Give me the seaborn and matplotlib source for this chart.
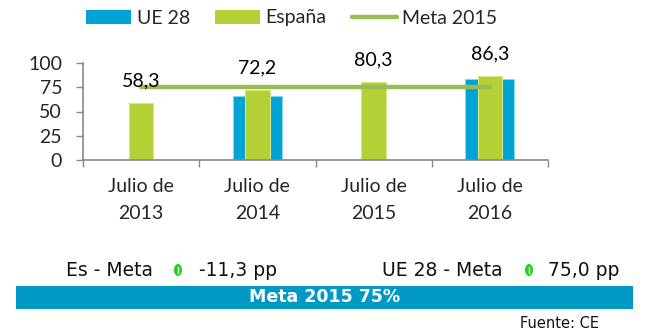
import numpy as np
import pandas as pd
import matplotlib
matplotlib.use("Agg")
import matplotlib.pyplot as plt
import seaborn as sns
from matplotlib.patches import Rectangle, Ellipse
from matplotlib.lines import Line2D

# Datos
periodos = ["Julio de\n2013", "Julio de\n2014", "Julio de\n2015", "Julio de\n2016"]
ue28 = [np.nan, 66.0, np.nan, 84.0]
espana = [58.3, 72.2, 80.3, 86.3]
meta_2015 = [75, 75, 75, 75]
y_ticks = [0, 25, 50, 75, 100]
es_meta = "-11,3 pp"
ue_meta = "75,0 pp"
banda = "Meta 2015 75%"
fuente = "Fuente: CE"

AZUL = "#00A3D3"
VERDE = "#B3D135"
LINEA = "#9BBB59"
BANDA = "#0099C3"

sns.set_style("white")
plt.rcParams["font.family"] = ["Lato", "DejaVu Sans"]

W, H = 648, 332
fig = plt.figure(figsize=(W / 100, H / 100), dpi=100)
ax = fig.add_axes([83 / W, 1 - 160 / H, (548 - 83) / W, (160 - 63) / H])

df = pd.DataFrame({"periodo": periodos, "UE 28": ue28, "España": espana})

sns.barplot(data=df, x="periodo", y="UE 28", order=periodos, color=AZUL,
            saturation=1, width=0.42, edgecolor="#86D4EE", linewidth=0.8,
            ax=ax, label="UE 28")
sns.barplot(data=df, x="periodo", y="España", order=periodos, color=VERDE,
            saturation=1, width=0.21, edgecolor="#D2E68A", linewidth=0.8,
            ax=ax, label="España")
if ax.get_legend() is not None:
    ax.get_legend().remove()

pos = np.arange(len(periodos))
ax.plot(pos, meta_2015, color=LINEA, lw=3.2, solid_capstyle="round",
        label="Meta 2015", zorder=4)

for x, v in zip(pos, espana):
    ax.annotate(f"{v:.1f}".replace(".", ","), (x, v), xytext=(0, 16),
                textcoords="offset points", ha="center", va="center",
                fontsize=14, color="black", zorder=5)

ax.set_ylim(0, 100)
ax.set_xlim(-0.5, len(periodos) - 0.5)
ax.set_yticks(y_ticks)
ax.set_yticklabels([str(t) for t in y_ticks], fontsize=14)
ax.set_xticks(np.arange(len(periodos) + 1) - 0.5)
ax.set_xticklabels([])
ax.set_xticks(pos, minor=True)
ax.set_xticklabels(periodos, minor=True, fontsize=14, linespacing=1.7)
ax.tick_params(axis="x", which="major", direction="out", length=5, width=1,
               color="#888888", bottom=True)
ax.tick_params(axis="x", which="minor", length=0, pad=13)
ax.tick_params(axis="y", direction="out", length=5, width=1, color="#888888",
               pad=10, left=True)
ax.set_xlabel("")
ax.set_ylabel("")
for s in ["top", "right"]:
    ax.spines[s].set_visible(False)
for s in ["left", "bottom"]:
    ax.spines[s].set_color("#888888")
    ax.spines[s].set_linewidth(1.2)

handles = [Rectangle((0, 0), 1, 1, facecolor=AZUL, edgecolor="none"),
           Rectangle((0, 0), 1, 1, facecolor=VERDE, edgecolor="none"),
           Line2D([], [], color=LINEA, lw=3.2, solid_capstyle="round")]
fig.legend(handles, ["UE 28", "España", "Meta 2015"],
           loc="center left", bbox_to_anchor=(86 / W, 1 - 18 / H), ncol=3,
           frameon=False, fontsize=14, handlelength=2.3, handleheight=0.7,
           handletextpad=0.3, columnspacing=1.3, borderpad=0, borderaxespad=0)


def icono(xc, yc):
    # Óvalo verde con una muesca blanca vertical
    fig.patches.append(Ellipse((xc / W, 1 - yc / H), 8 / W, 12 / H,
                               transform=fig.transFigure, facecolor="#1ED21E",
                               edgecolor="none"))
    fig.lines.append(Line2D([xc / W, xc / W], [1 - (yc - 3) / H, 1 - (yc + 3) / H],
                            transform=fig.transFigure, color="white", lw=1.0))


# Fila de diferencias frente a la meta
yrow = 1 - 270 / H
fig.text(153 / W, yrow, "Es - Meta", ha="right", va="center", fontsize=13.5,
         family="DejaVu Sans", color="#111111")
icono(178, 270)
fig.text(199 / W, yrow, es_meta, ha="left", va="center", fontsize=13.5,
         family="DejaVu Sans", color="#111111")
fig.text(503 / W, yrow, "UE 28 - Meta", ha="right", va="center", fontsize=13.5,
         family="DejaVu Sans", color="#111111")
icono(529, 270)
fig.text(548 / W, yrow, ue_meta, ha="left", va="center", fontsize=13.5,
         family="DejaVu Sans", color="#111111")

# Banda inferior
fig.patches.append(Rectangle((16 / W, 1 - 309 / H), (633 - 16) / W, 23 / H,
                             transform=fig.transFigure, facecolor=BANDA,
                             edgecolor="none", zorder=0))
fig.text(324.5 / W, 1 - 297.5 / H, banda, ha="center", va="center",
         fontsize=12.5, fontweight="bold", family="DejaVu Sans", color="white")
fig.text(520 / W, 1 - 324 / H, fuente, ha="left", va="center", fontsize=10.5,
         family="DejaVu Sans", color="#111111")

fig.savefig("out.png", dpi=100, facecolor="white")
